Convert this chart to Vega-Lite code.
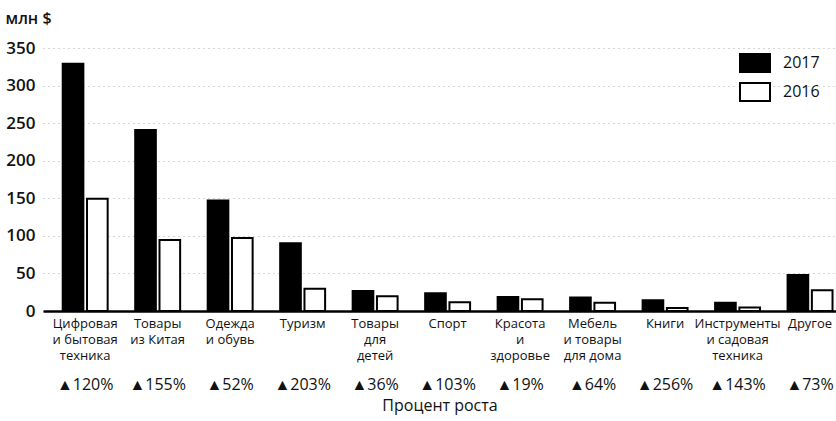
{
  "$schema": "https://vega.github.io/schema/vega-lite/v6.json",
  "width": 793,
  "height": 263,
  "autosize": {"type": "none"},
  "padding": {"left": 43, "top": 48, "right": 0, "bottom": 110},
  "background": "white",
  "config": {
    "font": "Open Sans",
    "view": {"stroke": null},
    "axisY": {
      "labelOverlap": false,
      "domain": false,
      "ticks": false,
      "grid": true,
      "gridColor": "#888",
      "gridDash": [1, 4],
      "gridOpacity": 0.7,
      "labelPadding": 8,
      "labelFontSize": 17,
      "labelFontWeight": 600,
      "labelColor": "#111",
      "titleAngle": 0,
      "titleAlign": "left",
      "titleBaseline": "middle",
      "titleX": -38,
      "titleY": -30,
      "titleFontSize": 16,
      "titleFontWeight": 600,
      "titleColor": "#111"
    }
  },
  "datasets": {
    "sales": [
      {"category": "Цифровая|и бытовая|техника", "year": "2017", "value": 329},
      {"category": "Цифровая|и бытовая|техника", "year": "2016", "value": 149.5},
      {"category": "Товары|из Китая", "year": "2017", "value": 241},
      {"category": "Товары|из Китая", "year": "2016", "value": 94.5},
      {"category": "Одежда|и обувь", "year": "2017", "value": 147},
      {"category": "Одежда|и обувь", "year": "2016", "value": 97},
      {"category": "Туризм", "year": "2017", "value": 90},
      {"category": "Туризм", "year": "2016", "value": 29.7},
      {"category": "Товары|для|детей", "year": "2017", "value": 26.5},
      {"category": "Товары|для|детей", "year": "2016", "value": 19.5},
      {"category": "Спорт", "year": "2017", "value": 23.5},
      {"category": "Спорт", "year": "2016", "value": 11.6},
      {"category": "Красота|и|здоровье", "year": "2017", "value": 18.7},
      {"category": "Красота|и|здоровье", "year": "2016", "value": 15.7},
      {"category": "Мебель|и товары|для дома", "year": "2017", "value": 17.8},
      {"category": "Мебель|и товары|для дома", "year": "2016", "value": 10.9},
      {"category": "Книги", "year": "2017", "value": 14.2},
      {"category": "Книги", "year": "2016", "value": 4},
      {"category": "Инструменты|и садовая|техника", "year": "2017", "value": 11},
      {"category": "Инструменты|и садовая|техника", "year": "2016", "value": 4.5},
      {"category": "Другое", "year": "2017", "value": 48},
      {"category": "Другое", "year": "2016", "value": 27.7}
    ],
    "growth": [
      {"category": "Цифровая|и бытовая|техника", "growth": "▲120%"},
      {"category": "Товары|из Китая", "growth": "▲155%"},
      {"category": "Одежда|и обувь", "growth": "▲52%"},
      {"category": "Туризм", "growth": "▲203%"},
      {"category": "Товары|для|детей", "growth": "▲36%"},
      {"category": "Спорт", "growth": "▲103%"},
      {"category": "Красота|и|здоровье", "growth": "▲19%"},
      {"category": "Мебель|и товары|для дома", "growth": "▲64%"},
      {"category": "Книги", "growth": "▲256%"},
      {"category": "Инструменты|и садовая|техника", "growth": "▲143%"},
      {"category": "Другое", "growth": "▲73%"}
    ]
  },
  "layer": [
    {
      "data": {"name": "sales"},
      "mark": {"type": "bar", "stroke": "#000", "strokeWidth": 2},
      "encoding": {
        "x": {
          "field": "category",
          "type": "nominal",
          "sort": null,
          "scale": {"paddingInner": 0.38, "paddingOuter": 0.16, "align": 0.85},
          "axis": {
            "labelExpr": "split(datum.label, '|')",
            "labelAngle": 0,
            "labelFontSize": 13,
            "labelLineHeight": 16,
            "labelPadding": 6,
            "labelBaseline": "top",
            "labelColor": "#111",
            "labelOverlap": false,
            "ticks": false,
            "domainColor": "#000",
            "domainWidth": 2.5,
            "title": "Процент роста",
            "titleFontSize": 16,
            "titleFontWeight": "normal",
            "titleColor": "#111",
            "titlePadding": 35
          }
        },
        "xOffset": {
          "field": "year",
          "type": "nominal",
          "sort": ["2017", "2016"],
          "scale": {"paddingInner": 0.15}
        },
        "y": {
          "field": "value",
          "type": "quantitative",
          "scale": {"domain": [0, 350], "nice": false},
          "axis": {
            "values": [0, 50, 100, 150, 200, 250, 300, 350],
            "title": "млн $"
          }
        },
        "fill": {
          "field": "year",
          "type": "nominal",
          "sort": ["2017", "2016"],
          "scale": {"domain": ["2017", "2016"], "range": ["#000", "#fff"]},
          "legend": {
            "title": null,
            "orient": "none",
            "legendX": 696,
            "legendY": -1,
            "padding": 0,
            "symbolType": "M-1,-0.6H1V0.6H-1Z",
            "symbolSize": 900,
            "symbolStrokeColor": "#000",
            "symbolStrokeWidth": 2,
            "rowPadding": -4,
            "labelOffset": 12,
            "labelFontSize": 16,
            "labelColor": "#111"
          }
        }
      }
    },
    {
      "data": {"name": "growth"},
      "mark": {"type": "text", "fontSize": 16, "baseline": "middle", "color": "#111"},
      "encoding": {
        "x": {"field": "category", "type": "nominal", "sort": null},
        "y": {
          "datum": -98.5,
          "axis": {
            "values": [0, 50, 100, 150, 200, 250, 300, 350],
            "title": "млн $"
          }
        },
        "text": {"field": "growth"}
      }
    }
  ]
}
